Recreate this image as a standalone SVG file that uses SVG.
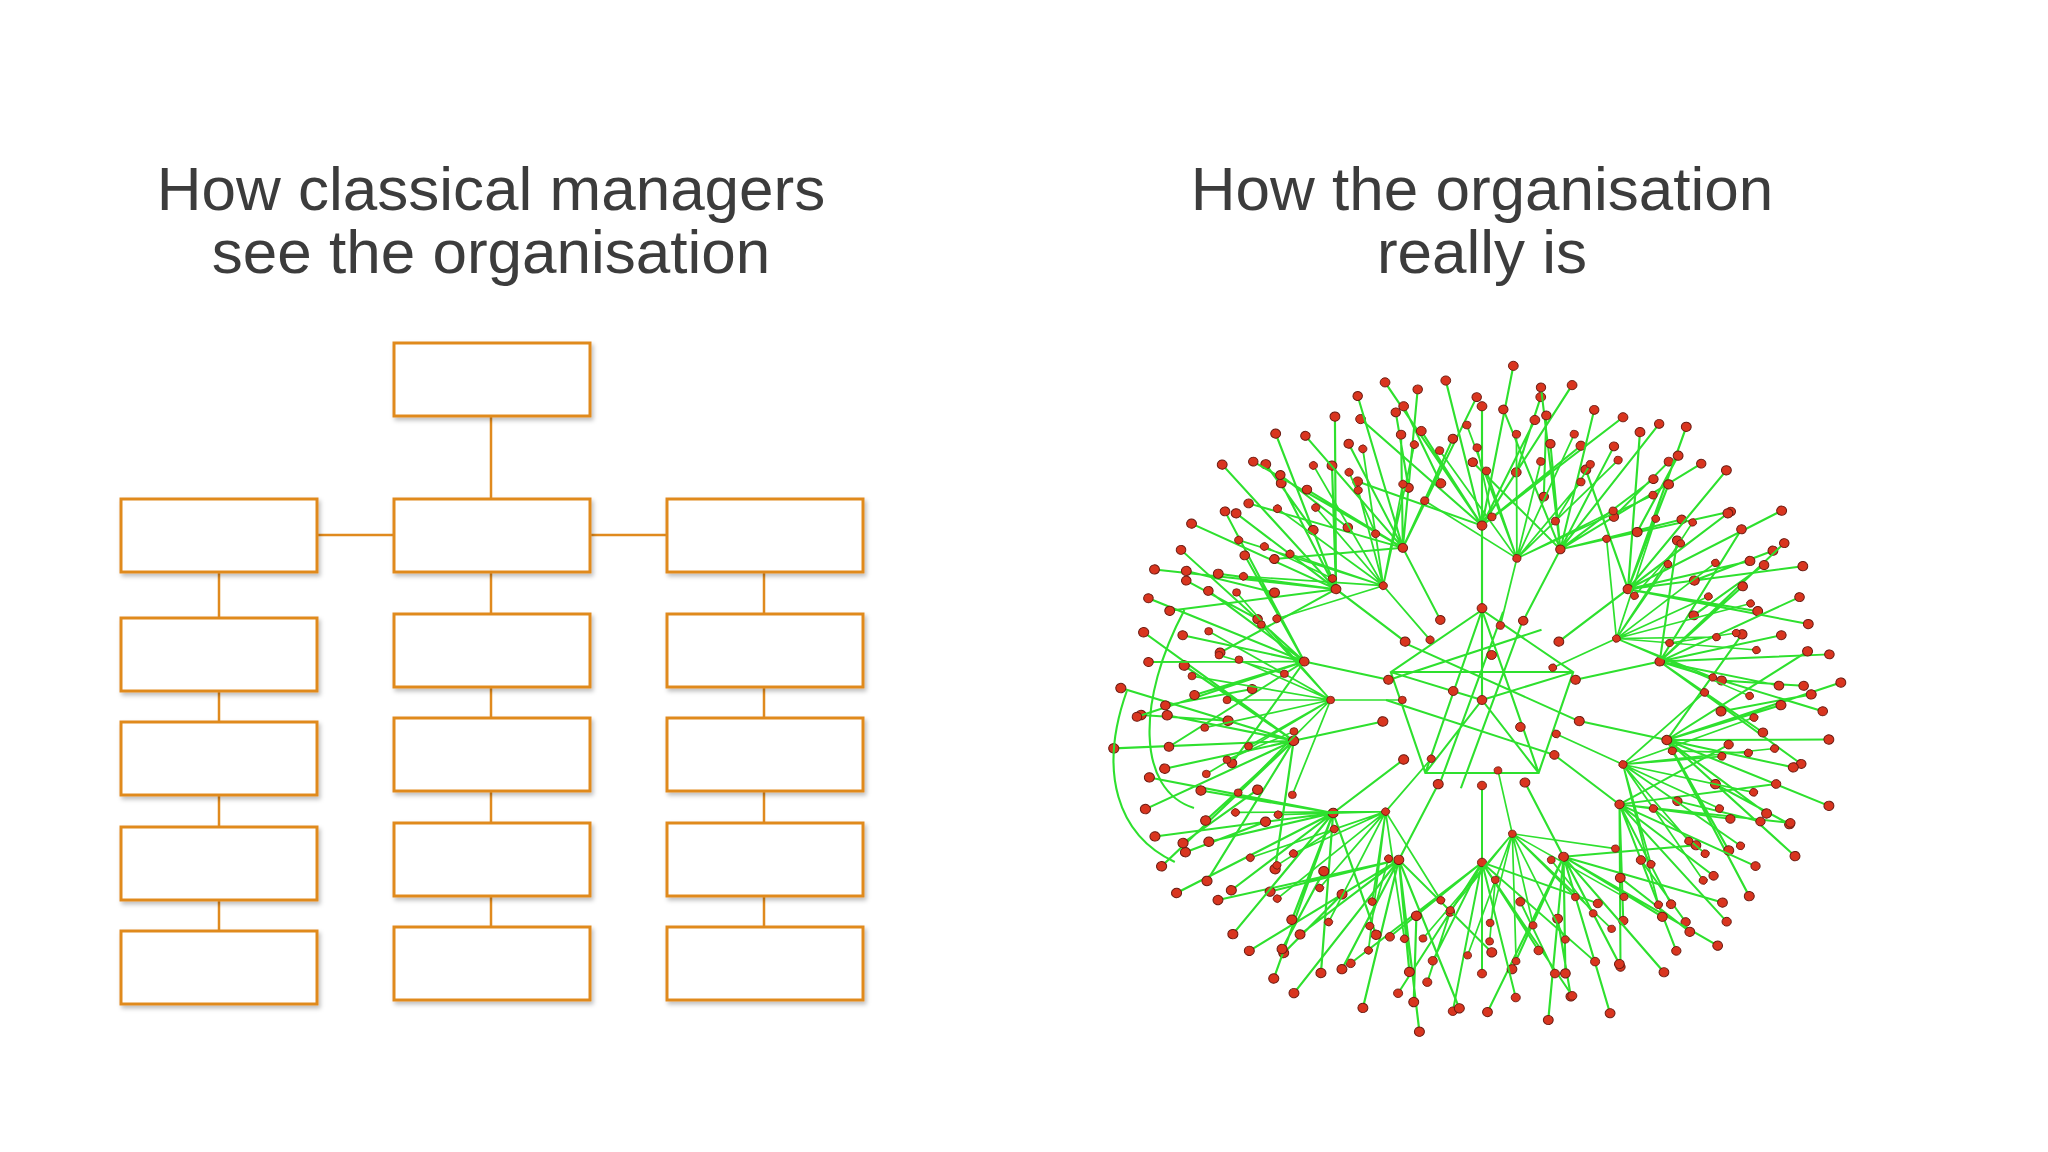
<svg xmlns="http://www.w3.org/2000/svg" width="2048" height="1152" viewBox="0 0 2048 1152">
<style>
.t{font-family:"Liberation Sans",Arial,sans-serif;font-size:62px;fill:#3c3c3c;text-anchor:middle}
.b{fill:#fff;stroke:#e08a1e;stroke-width:3}
.c{stroke:#e08a1e;stroke-width:2.5;fill:none}
.g{stroke:#2ee02e;stroke-width:2.2;fill:none}
.d{fill:#d9351f;stroke:#6a1a10;stroke-width:1}
</style>
<defs>
<filter id="sh" x="-10%" y="-10%" width="130%" height="140%"><feDropShadow dx="2" dy="3" stdDeviation="2" flood-color="#000" flood-opacity="0.25"/></filter>
<g id="fan">
<path class="g" d="M0,-100L0,-190M0,-190L-124,-306M0,-190L-99,-346M0,-190L-62,-293M0,-190L-37,-348M0,-190L0,-320M0,-190L32,-364M0,-190L54,-305M0,-190L92,-343M0,-190L101,-277M0,-190L144,-308M0,-190L-127,-238M35,-248L60,-330M-42,-236L-80,-320"/>
<g class="d">
<circle cx="0" cy="-100" r="5"/><circle cx="0" cy="-190" r="5"/>
<circle cx="-124" cy="-306" r="5"/><circle cx="-99" cy="-346" r="5"/><circle cx="-62" cy="-293" r="5"/><circle cx="-37" cy="-348" r="5"/><circle cx="0" cy="-320" r="5"/><circle cx="32" cy="-364" r="5"/><circle cx="54" cy="-305" r="5"/><circle cx="92" cy="-343" r="5"/><circle cx="101" cy="-277" r="5"/><circle cx="144" cy="-308" r="5"/><circle cx="-127" cy="-238" r="5"/><circle cx="35" cy="-248" r="5"/><circle cx="-42" cy="-236" r="5"/><circle cx="60" cy="-330" r="5"/><circle cx="-80" cy="-320" r="5"/>
</g>
</g>
</defs>
<rect width="2048" height="1152" fill="#fff"/>
<text class="t" x="491" y="210">How classical managers</text>
<text class="t" x="491" y="273">see the organisation</text>
<text class="t" x="1482" y="210">How the organisation</text>
<text class="t" x="1482" y="273">really is</text>
<g id="connectors">
<path class="c" d="M491,417V499M317,535H394M590,535H667M219,572V618M219,691V722M219,795V827M219,900V931M491,572V614M491,687V718M491,791V823M491,896V927M764,572V614M764,687V718M764,791V823M764,896V927"/>
</g>
<g filter="url(#sh)">
<g id="top"><rect class="b" x="394" y="343" width="196" height="73"/></g>
<g id="l1"><rect class="b" x="121" y="499" width="196" height="73"/></g>
<g id="m1"><rect class="b" x="394" y="499" width="196" height="73"/></g>
<g id="r1"><rect class="b" x="667" y="499" width="196" height="73"/></g>
<g id="l2"><rect class="b" x="121" y="618" width="196" height="73"/></g>
<g id="l3"><rect class="b" x="121" y="722" width="196" height="73"/></g>
<g id="l4"><rect class="b" x="121" y="827" width="196" height="73"/></g>
<g id="l5"><rect class="b" x="121" y="931" width="196" height="73"/></g>
<g id="m2"><rect class="b" x="394" y="614" width="196" height="73"/></g>
<g id="m3"><rect class="b" x="394" y="718" width="196" height="73"/></g>
<g id="m4"><rect class="b" x="394" y="823" width="196" height="73"/></g>
<g id="m5"><rect class="b" x="394" y="927" width="196" height="73"/></g>
<g id="r2"><rect class="b" x="667" y="614" width="196" height="73"/></g>
<g id="r3"><rect class="b" x="667" y="718" width="196" height="73"/></g>
<g id="r4"><rect class="b" x="667" y="823" width="196" height="73"/></g>
<g id="r5"><rect class="b" x="667" y="927" width="196" height="73"/></g>
</g>
<g id="network" transform="translate(1482,700) scale(0.96,0.9)">
<path class="g" d="M0,-100L-95,-31L-59,81L59,81L95,-31Z M0,-100L59,81M-95,-31L95,-31M-59,81L0,-100M22,-98L-43,90M-78,-62L98,22M-100,0L78,62M43,-90L-22,98M62,-78L-98,-22M0,0L0,-100M0,0L-95,-31M0,0L59,81M0,0L95,-31M0,0L-59,81"/>
<g class="d"><circle cx="0" cy="0" r="5"/><circle cx="-30" cy="-10" r="5"/><circle cx="40" cy="30" r="5"/><circle cx="10" cy="-50" r="5"/></g>
<use href="#fan" transform="rotate(0) scale(1.02)"/>
<use href="#fan" transform="rotate(26) scale(0.98)"/>
<use href="#fan" transform="rotate(51) scale(1.03)"/>
<use href="#fan" transform="rotate(77) scale(1.0)"/>
<use href="#fan" transform="rotate(103) scale(1.04)"/>
<use href="#fan" transform="rotate(129) scale(0.97)"/>
<use href="#fan" transform="rotate(154) scale(1.02)"/>
<use href="#fan" transform="rotate(180) scale(0.95)"/>
<use href="#fan" transform="rotate(206) scale(1.04)"/>
<use href="#fan" transform="rotate(231) scale(1.05)"/>
<use href="#fan" transform="rotate(257) scale(1.06)"/>
<use href="#fan" transform="rotate(283) scale(1.0)"/>
<use href="#fan" transform="rotate(309) scale(1.03)"/>
<use href="#fan" transform="rotate(334) scale(0.99)"/>
<use href="#fan" transform="rotate(13) scale(0.85)"/>
<use href="#fan" transform="rotate(64) scale(0.82)"/>
<use href="#fan" transform="rotate(116) scale(0.86)"/>
<use href="#fan" transform="rotate(168) scale(0.8)"/>
<use href="#fan" transform="rotate(219) scale(0.84)"/>
<use href="#fan" transform="rotate(270) scale(0.83)"/>
<use href="#fan" transform="rotate(321) scale(0.86)"/>
<path class="g" d="M-370,-10C-400,80 -380,150 -320,180M-310,-100C-360,0 -360,100 -300,120"/>
</g>
</svg>
